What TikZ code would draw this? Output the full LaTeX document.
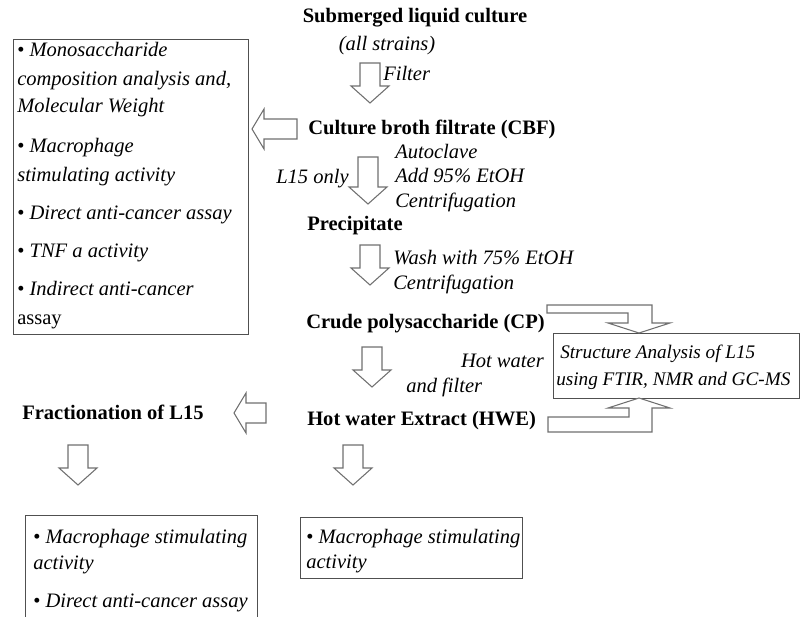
\documentclass[tikz,border=0pt]{standalone}
\usepackage{fontspec}
\setmainfont{Liberation Serif}
\newcommand\dfs{\fontsize{15.4pt}{18pt}\selectfont}
\newcommand\sfs{\fontsize{14.4pt}{16pt}\selectfont}
\definecolor{arrgray}{HTML}{707070}
\definecolor{boxgray}{HTML}{505050}
\tikzset{
  txt/.style={inner sep=0pt, font=\dfs},
  bf/.style={txt, font=\dfs\bfseries},
  it/.style={txt, font=\dfs\itshape},
  sit/.style={txt, font=\sfs\itshape},
  arrowline/.style={draw=arrgray, line width=0.8pt, fill=white, line join=miter},
  boxline/.style={draw=boxgray, line width=0.8pt},
  pics/downarrow/.style={code={\path[arrowline] (-10,0) -- (10,0) -- (10,#1) -- (19,#1) -- (0,#1+17) -- (-19,#1) -- (-10,#1) -- cycle;}},
  pics/downarrow/.default=23,
  pics/leftarrow/.style={code={\path[arrowline] (0,0) -- (12,-20) -- (12,-10) -- (#1,-10) -- (#1,10) -- (12,10) -- (12,20) -- cycle;}},
}
\begin{document}
\begin{tikzpicture}[x=0.75pt,y=-0.75pt]
\useasboundingbox (0,0) rectangle (800,617);
% main column
\node[bf, anchor=base] (slc) at (415,23) {Submerged liquid culture};
\node[it, anchor=base] (all) at (387,51) {(all strains)};
\pic (a1) at (370,63) {downarrow};
\node[it, anchor=base west] (filter) at (383,81) {Filter};
\node[bf, anchor=base west] (cbf) at (308,134) {Culture broth filtrate (CBF)};
\pic (l1) at (252,129) {leftarrow=45};
\pic (a2) at (368,157) {downarrow=30};
\node[it, anchor=base east] (l15) at (349,183) {L15 only};
\node[it, anchor=base west] (auto) at (395,158) {Autoclave};
\node[it, anchor=base west] (add) at (395,182) {Add 95\% EtOH};
\node[it, anchor=base west] (cen1) at (395,207) {Centrifugation};
\node[bf, anchor=base west] (prec) at (307,230) {Precipitate};
\pic (a3) at (370,245) {downarrow};
\node[it, anchor=base west] (wash) at (393,264) {Wash with 75\% EtOH};
\node[it, anchor=base west] (cen2) at (393,289) {Centrifugation};
\node[bf, anchor=base west] (cp) at (306,328) {Crude polysaccharide (CP)};
\pic (a4) at (372,347) {downarrow};
\node[it, anchor=base east] (hot) at (544,367) {Hot water};
\node[it, anchor=base west] (andf) at (406,392) {and filter};
\node[bf, anchor=base west] (hwe) at (307,425) {Hot water Extract (HWE)};
\node[bf, anchor=base west] (frac) at (22,419) {Fractionation of L15};
\pic (l2) at (234,413) {leftarrow=32};
% left box
\node[boxline, anchor=north west, minimum width=176.25pt, minimum height=221.25pt, inner sep=0pt] (lbox) at (13,39) {};
\foreach \t/\y [count=\i] in {
  {• \textit{Monosaccharide}}/57,
  {\textit{composition analysis and,}}/85,
  {\textit{Molecular Weight}}/113,
  {• \textit{Macrophage}}/152,
  {\textit{stimulating activity}}/181,
  {• \textit{Direct anti-cancer assay}}/219,
  {• \textit{TNF a activity}}/257,
  {• \textit{Indirect anti-cancer}}/295,
  {assay}/324}
  \node[txt, anchor=base west] (lb\i) at (17,\y) {\t};
% structure analysis box
\node[boxline, anchor=north west, minimum width=184.5pt, minimum height=48.75pt, inner sep=0pt] (sbox) at (553,333) {};
\node[sit, anchor=base west] (s1) at (560,358) {Structure Analysis of L15};
\node[sit, anchor=base west] (s2) at (556,385) {using FTIR, NMR and GC-MS};
% bent arrows
\path[arrowline] (547,305) -- (652,305) -- (652,323) -- (670,323) -- (639,333) -- (608,323) -- (628,323) -- (628,313) -- (547,313) -- cycle;
\path[arrowline] (548,432) -- (652,432) -- (652,408) -- (670,408) -- (639,398) -- (608,408) -- (629,408) -- (629,417) -- (548,417) -- cycle;
% lower arrows
\pic (a5) at (78,445) {downarrow};
\pic (a6) at (353,445) {downarrow};
% bottom left box (open at the bottom edge)
\node[boxline, anchor=north west, minimum width=174pt, minimum height=90pt, inner sep=0pt] (blbox) at (25,515) {};
\node[txt, anchor=base west] (b1) at (33,543) {• \textit{Macrophage stimulating}};
\node[txt, anchor=base west] (b2) at (33,569) {\textit{activity}};
\node[txt, anchor=base west] (b3) at (33,607) {• \textit{Direct anti-cancer assay}};
% bottom middle box
\node[boxline, anchor=north west, minimum width=166.5pt, minimum height=45.75pt, inner sep=0pt] (bmbox) at (300,517) {};
\node[txt, anchor=base west] (m1) at (306,543) {• \textit{Macrophage stimulating}};
\node[txt, anchor=base west] (m2) at (306,568) {\textit{activity}};
\end{tikzpicture}
\end{document}
